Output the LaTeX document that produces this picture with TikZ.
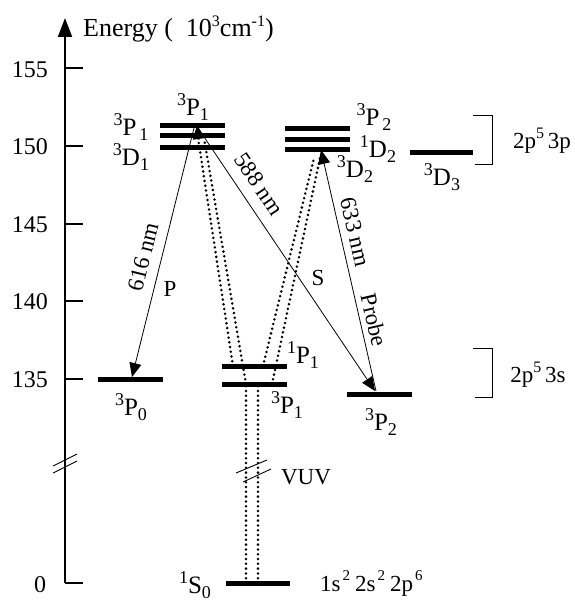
\documentclass[tikz,border=0pt]{standalone}
\usepackage{fontspec}
\setmainfont{Liberation Serif}
\usepackage{graphicx}
\usetikzlibrary{arrows.meta}
\newcommand{\lvl}[4][0pt]{\raisebox{0.38em}{\fontsize{18}{18}\selectfont #2}#3\kern#1\raisebox{-0.2em}{\fontsize{18}{18}\selectfont #4}}
\newcommand{\sups}[1]{\raisebox{0.42em}{\fontsize{16}{16}\selectfont #1}}
\newcommand{\supg}[1]{\raisebox{0.45em}{\fontsize{15}{15}\selectfont #1}}
\begin{document}
\begin{tikzpicture}[x=1pt,y=-1pt,
  bar/.style={line width=5pt},
  axisline/.style={line width=2pt},
  arrowline/.style={line width=0.8pt},
  brk/.style={line width=0.9pt},
  dots/.style={line width=2.8pt, line cap=round, dash pattern=on 0pt off 4.8pt},
  lab/.style={font=\fontsize{25}{25}\selectfont, inner sep=0pt, anchor=base},
  num/.style={font=\fontsize{24}{24}\selectfont, inner sep=0pt},
  txt/.style={font=\fontsize{23}{23}\selectfont, inner sep=0pt},
  tipped/.style={-{Triangle[length=14pt,width=12pt]}}]
\useasboundingbox (0,0) rectangle (574,602);

% axis
\coordinate (ax0) at (65,583);
\coordinate (axtop) at (65,18);
\coordinate (ax0e) at (83,583);
\draw[axisline,-{Triangle[length=19pt,width=14pt]}] (ax0) -- (axtop);
\draw[axisline] (ax0) -- (ax0e);
\node[num] (n0) at (40,585) {0};
\foreach \v/\y in {155/68.5,150/146,145/223.5,140/301,135/378.5}{
  \coordinate (t\v) at (65,\y);
  \coordinate (te\v) at (83,\y);
  \draw[axisline] (t\v) -- (te\v);
  \node[num] (n\v) at (30,\y+1) {\v};
}
\node[txt, anchor=west, font=\fontsize{26}{26}\selectfont] (title) at (83,29) {Energy (\ \ 10\sups{3}cm\sups{-1})};

% axis break
\coordinate (ab1a) at (53,466); \coordinate (ab1b) at (77,454);
\coordinate (ab2a) at (53,473); \coordinate (ab2b) at (77,461);
\draw[brk] (ab1a) -- (ab1b);
\draw[brk] (ab2a) -- (ab2b);

% dotted VUV and two-photon lines
\coordinate (g1) at (246,583); \coordinate (g2) at (258,583);
\coordinate (m1) at (246,384); \coordinate (m2) at (258,384);
\draw[dots] (g1) -- (m1);
\draw[dots] (g2) -- (m2);
\coordinate (L1a) at (233,366); \coordinate (L1b) at (198,138);
\coordinate (L2a) at (246,384); \coordinate (L2b) at (204,138);
\coordinate (R1a) at (263,366); \coordinate (R1b) at (314,158);
\coordinate (R2a) at (272,384); \coordinate (R2b) at (320,158);
\draw[dots] (L1a) -- (L1b);
\draw[dots] (L2a) -- (L2b);
\draw[dots] (R1a) -- (R1b);
\draw[dots] (R2a) -- (R2b);
\coordinate (Ltip) at (197,125);
\coordinate (Ltail) at (199,140);
\draw[arrowline,tipped] (Ltail) -- (Ltip);

% VUV break
\coordinate (vb1a) at (236,473); \coordinate (vb1b) at (267,460);
\coordinate (vb2a) at (243,482); \coordinate (vb2b) at (271,469);
\draw[brk] (vb1a) -- (vb1b);
\draw[brk] (vb2a) -- (vb2b);
\node[txt] (vuv) at (306,477) {VUV};

% levels 2p5 3p
\foreach \n/\y in {a/125,b/135,c/147}{
  \coordinate (lg\n1) at (160,\y); \coordinate (lg\n2) at (225,\y);
  \draw[bar] (lg\n1) -- (lg\n2);
}
\foreach \n/\y in {a/128,b/139,c/149}{
  \coordinate (rg\n1) at (285,\y); \coordinate (rg\n2) at (350,\y);
  \draw[bar] (rg\n1) -- (rg\n2);
}
\coordinate (d3a) at (410,152); \coordinate (d3b) at (473,152);
\draw[bar] (d3a) -- (d3b);

% levels 2p5 3s
\coordinate (p0a) at (98,379); \coordinate (p0b) at (163,379);
\draw[bar] (p0a) -- (p0b);
\coordinate (s1a) at (222,366); \coordinate (s1b) at (287,366);
\draw[bar] (s1a) -- (s1b);
\coordinate (s3a) at (222,384); \coordinate (s3b) at (287,384);
\draw[bar] (s3a) -- (s3b);
\coordinate (p2a) at (347,394); \coordinate (p2b) at (412,394);
\draw[bar] (p2a) -- (p2b);

% ground
\coordinate (gra) at (226,583); \coordinate (grb) at (290,583);
\draw[bar] (gra) -- (grb);

% level labels
\node[lab] (l1) at (193,115) {\lvl{3}{P}{1}};
\node[lab] (l2) at (131,135) {\lvl[3pt]{3}{P}{1}};
\node[lab] (l3) at (131,165) {\lvl{3}{D}{1}};
\node[lab] (l4) at (374,125) {\lvl[3pt]{3}{P}{2}};
\node[lab] (l5) at (378,157) {\lvl{1}{D}{2}};
\node[lab] (l6) at (355,177) {\lvl{3}{D}{2}};
\node[lab] (l7) at (442,185) {\lvl{3}{D}{3}};
\node[lab] (l8) at (131,415) {\lvl{3}{P}{0}};
\node[lab] (l9) at (303,363) {\lvl{1}{P}{1}};
\node[lab] (l10) at (287,413) {\lvl{3}{P}{1}};
\node[lab] (l11) at (381,430) {\lvl{3}{P}{2}};
\node[lab] (l12) at (195,593) {\lvl{1}{S}{0}};

% configurations
\node[txt, anchor=base] (c3p) at (542,148) {2p\sups{5}\,3p};
\node[txt, anchor=base] (c3s) at (538,382) {2p\sups{5}\,3s};
\node[txt, anchor=base west] (cg) at (320,591) {1s\kern2pt\supg{2}\kern5pt 2s\kern2pt\supg{2}\kern5pt 2p\kern2pt\supg{6}};

% brackets
\coordinate (b1a) at (473,115); \coordinate (b1b) at (492,115);
\coordinate (b1c) at (492,164); \coordinate (b1d) at (475,164);
\draw[brk] (b1a) -- (b1b) -- (b1c) -- (b1d);
\coordinate (b2a) at (473,348); \coordinate (b2b) at (492,348);
\coordinate (b2c) at (492,397); \coordinate (b2d) at (475,397);
\draw[brk] (b2a) -- (b2b) -- (b2c) -- (b2d);

% laser transitions
\coordinate (Ps) at (194,128); \coordinate (Pe) at (132,377);
\draw[arrowline,tipped] (Ps) -- (Pe);
\coordinate (Ss) at (198,128); \coordinate (Se) at (375,391);
\draw[arrowline,tipped] (Ss) -- (Se);
\coordinate (Pbs) at (376,391); \coordinate (Pbe) at (321,150);
\draw[arrowline,tipped] (Pbs) -- (Pbe);

\node[txt, rotate=76] (w616) at (143,257) {616 nm};
\node[txt] (wP) at (170,289) {P};
\node[txt, rotate=-56] (w588) at (259,184) {588 nm};
\node[txt] (wS) at (318,278) {S};
\node[txt, rotate=-77] (w633) at (355,232) {633 nm};
\node[txt, rotate=-77] (wPr) at (374,320) {Probe};
\end{tikzpicture}
\end{document}
